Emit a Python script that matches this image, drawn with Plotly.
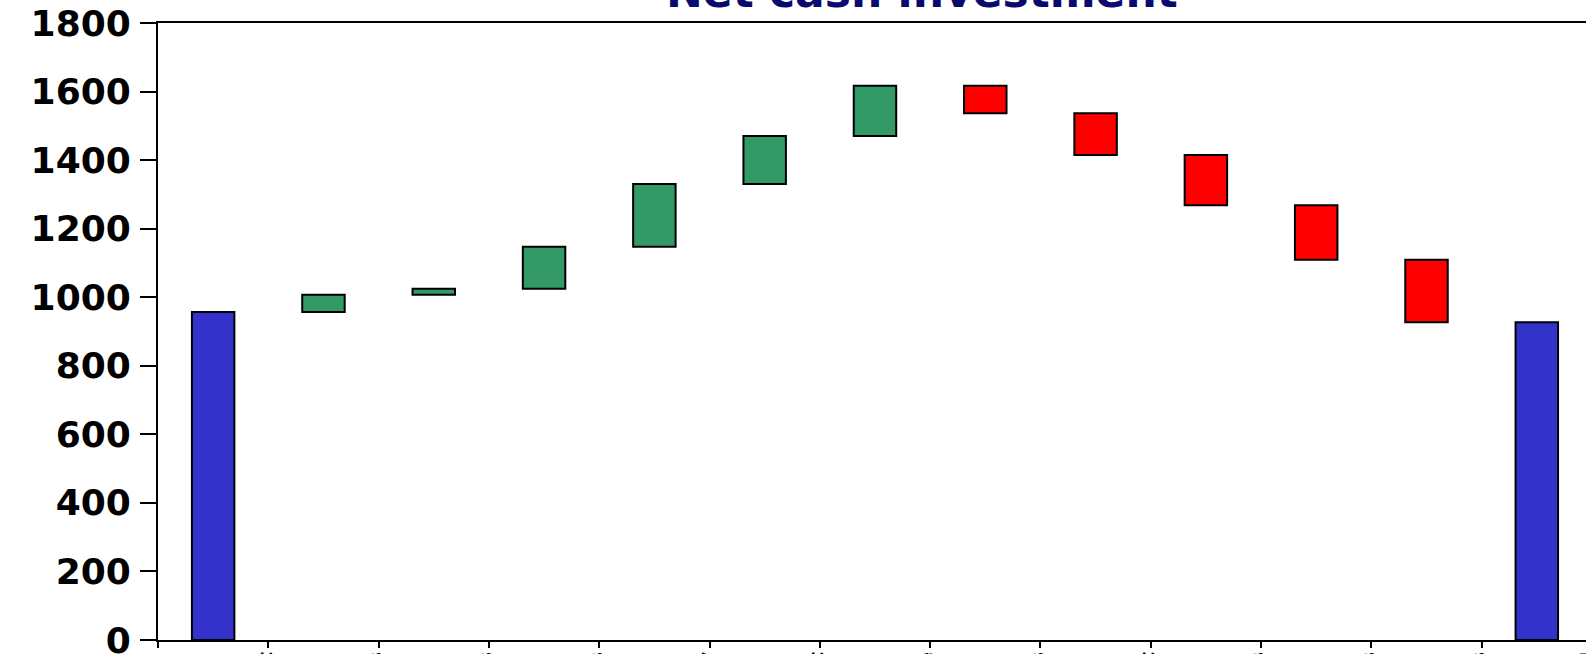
import plotly.graph_objects as go

categories = ["Start", "Sales", "Grants", "Loans", "Equity", "Interest", "Other income",
              "Salaries", "Rent", "Materials", "Taxes", "Dividends", "End"]
measures = ["absolute"] + ["relative"] * 11 + ["total"]
values = [957, 50, 18, 122, 183, 140, 147, -80, -122, -147, -159, -182, 0]
y_ticks = [0, 200, 400, 600, 800, 1000, 1200, 1400, 1600, 1800]
title_text = "Net cash investment"

fig = go.Figure(go.Waterfall(
    x=categories,
    y=values,
    measure=measures,
    width=0.385,
    connector=dict(visible=False),
    increasing=dict(marker=dict(color="#339966", line=dict(color="black", width=2))),
    decreasing=dict(marker=dict(color="#FF0000", line=dict(color="black", width=2))),
    totals=dict(marker=dict(color="#3333CC", line=dict(color="black", width=2))),
    hoverinfo="x+y",
))

fig.update_layout(
    width=1586, height=654,
    margin=dict(l=158, r=0, t=23, b=14, autoexpand=False),
    paper_bgcolor="white", plot_bgcolor="white",
    showlegend=False,
    font=dict(family="DejaVu Sans", color="black"),
    annotations=[dict(
        text="<b>" + title_text + "</b>",
        xref="paper", yref="paper", x=0.535, y=1.051,
        xanchor="center", yanchor="middle", showarrow=False,
        font=dict(family="DejaVu Sans", size=44, color="#0A0A6E"),
    )],
)

fig.update_xaxes(
    type="category", automargin=False, ticklabeloverflow="allow",
    range=[-0.5, 12.446],
    showline=True, linecolor="black", linewidth=2, mirror=True,
    ticks="outside", tickson="boundaries", ticklen=6, tickwidth=2, tickcolor="black",
    tickangle=-90, ticklabelshift=52, ticklabelstandoff=2,
    tickfont=dict(family="DejaVu Sans", size=20, color="black", weight="bold"),
    showgrid=False, zeroline=False, fixedrange=True,
)
fig.update_yaxes(
    automargin=False, ticklabeloverflow="allow",
    range=[0, 1800], tickvals=y_ticks,
    showline=True, linecolor="black", linewidth=2, mirror=False,
    ticks="outside", ticklen=16, tickwidth=2, tickcolor="black",
    ticklabelstandoff=2,
    tickfont=dict(family="DejaVu Sans", size=36, color="black", weight="bold"),
    showgrid=False, zeroline=False, fixedrange=True,
)

fig.write_html("out.html")
